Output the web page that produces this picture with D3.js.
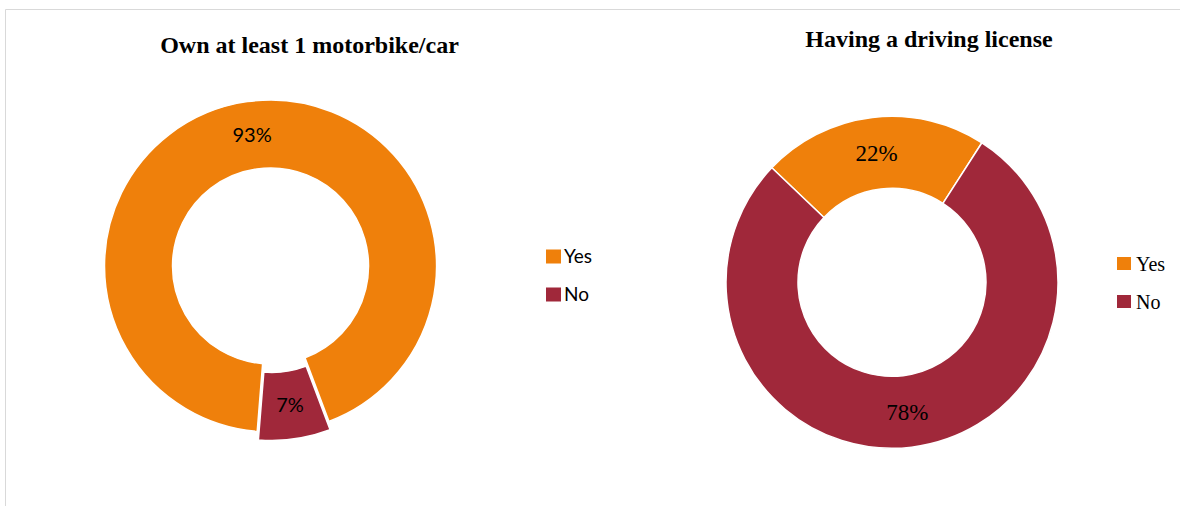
<!DOCTYPE html>
<html>
<head>
<meta charset="utf-8">
<script src="https://cdn.jsdelivr.net/npm/d3@7/dist/d3.min.js"></script>
<style>
  html, body { margin: 0; padding: 0; background: #ffffff; }
  svg { display: block; }
</style>
</head>
<body>
<svg id="chart" width="1180" height="506"></svg>
<script>
// Survey answers, in percent
const categories = ["Yes", "No"];
const ownVehicle = [93, 7];
const drivingLicense = [22, 78];
const titles = ["Own at least 1 motorbike/car", "Having a driving license"];

const colors = d3.scaleOrdinal().domain(categories).range(["#EF800B", "#A0283A"]);

const svg = d3.select("#chart");

// Frame lines of the chart area
svg.append("line").attr("x1", 5.5).attr("y1", 9.5).attr("x2", 1180).attr("y2", 9.5)
  .attr("stroke", "#d9d9d9").attr("stroke-width", 1);
svg.append("line").attr("x1", 5.5).attr("y1", 9.5).attr("x2", 5.5).attr("y2", 506)
  .attr("stroke", "#d9d9d9").attr("stroke-width", 1);

const rad = d => d * Math.PI / 180;

const panels = [
  {
    values: ownVehicle, title: titles[0],
    cx: 270.5, cy: 266, outer: 166, inner: 98, start: 184.6,
    explode: { No: 8.5 },
    titleX: 309.5, titleY: 53,
    labelFont: "Lato, 'Open Sans', sans-serif", labelSize: 20,
    legendX: 546, legendY: [249.5, 287.5], legendW: 15, legendH: 14,
    legendFont: "Lato, 'Open Sans', sans-serif", legendSize: 19, legendTextX: 564
  },
  {
    values: drivingLicense, title: titles[1],
    cx: 892, cy: 282.3, outer: 166, inner: 94, start: -46.4,
    explode: {},
    titleX: 929, titleY: 46.5,
    labelFont: "'Liberation Serif', serif", labelSize: 23,
    legendX: 1117, legendY: [257, 295], legendW: 14, legendH: 13,
    legendFont: "'Liberation Serif', serif", legendSize: 20, legendTextX: 1136
  }
];

panels.forEach(p => {
  const data = categories.map((c, i) => ({ category: c, value: p.values[i] }));
  const pie = d3.pie().sort(null).value(d => d.value)
    .startAngle(rad(p.start)).endAngle(rad(p.start) + 2 * Math.PI);
  const arc = d3.arc().innerRadius(p.inner).outerRadius(p.outer);

  const g = svg.append("g").attr("transform", `translate(${p.cx},${p.cy})`);
  const slices = g.selectAll("g.slice").data(pie(data)).join("g")
    .attr("class", "slice")
    .attr("transform", d => {
      const off = p.explode[d.data.category] || 0;
      const mid = (d.startAngle + d.endAngle) / 2;
      return `translate(${off * Math.sin(mid)},${-off * Math.cos(mid)})`;
    });

  slices.append("path")
    .attr("d", arc)
    .attr("fill", d => colors(d.data.category))
    .attr("stroke", "#ffffff")
    .attr("stroke-width", 1.5)
    .attr("stroke-linejoin", "round");

  slices.append("text")
    .attr("transform", d => `translate(${arc.centroid(d)})`)
    .attr("text-anchor", "middle")
    .attr("dy", "0.36em")
    .attr("font-family", p.labelFont)
    .attr("font-size", p.labelSize)
    .attr("fill", "#000000")
    .text(d => `${d.data.value}%`);

  svg.append("text")
    .attr("x", p.titleX).attr("y", p.titleY)
    .attr("text-anchor", "middle")
    .attr("font-family", "'Liberation Serif', serif")
    .attr("font-weight", "bold")
    .attr("font-size", 24)
    .attr("fill", "#000000")
    .text(p.title);

  const legend = svg.append("g");
  categories.forEach((c, i) => {
    legend.append("rect")
      .attr("x", p.legendX).attr("y", p.legendY[i])
      .attr("width", p.legendW).attr("height", p.legendH)
      .attr("fill", colors(c));
    legend.append("text")
      .attr("x", p.legendTextX).attr("y", p.legendY[i] + p.legendH / 2)
      .attr("dy", "0.36em")
      .attr("font-family", p.legendFont)
      .attr("font-size", p.legendSize)
      .attr("fill", "#000000")
      .text(c);
  });
});
</script>
</body>
</html>
